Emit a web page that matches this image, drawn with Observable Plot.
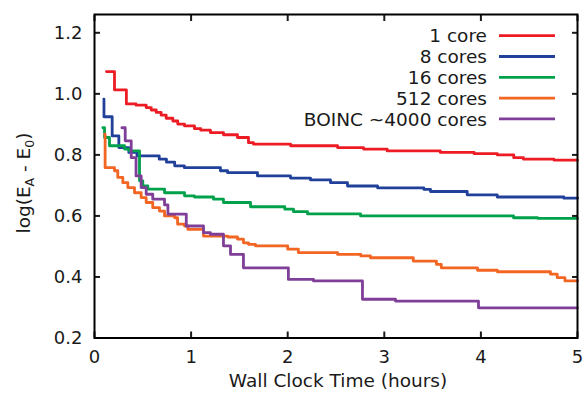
<!DOCTYPE html>
<html><head><meta charset="utf-8">
<script src="https://cdn.jsdelivr.net/npm/d3@7"></script>
<script src="https://cdn.jsdelivr.net/npm/@observablehq/plot@0.6"></script>
<style>body{margin:0;background:#fff}</style>
</head><body><div id="chart"></div>
<script>
const seriesNames = ["1 core", "8 cores", "16 cores", "512 cores", "BOINC ~4000 cores"];
const seriesColors = ["#ed1c24", "#21409a", "#00a14b", "#f26522", "#7f3f98"];
const xTicks = [0, 1, 2, 3, 4, 5];
const yTicks = [0.2, 0.4, 0.6, 0.8, 1.0, 1.2];

const hours1 = [0.124,0.207,0.33,0.43,0.535,0.587,0.639,0.69,0.742,0.811,0.862,0.932,1.035,1.10,1.20,1.335,1.48,1.594,1.646,2.03,2.516,2.785,3.03,3.58,3.93,4.17,4.34,4.44,4.755,5.0];
const log1 =   [1.073,1.013,0.967,0.963,0.955,0.947,0.939,0.93,0.92,0.911,0.901,0.895,0.886,0.881,0.873,0.866,0.857,0.84,0.835,0.83,0.824,0.819,0.813,0.808,0.804,0.8,0.791,0.786,0.783,0.783];

const hours8 = [0.096,0.098,0.183,0.252,0.355,0.44,0.67,0.745,0.83,0.93,1.304,1.377,1.687,2.029,2.236,2.443,2.619,2.93,3.409,3.478,3.858,4.169,4.858,5.0];
const log8 =   [0.983,0.925,0.862,0.824,0.808,0.797,0.786,0.776,0.764,0.758,0.748,0.742,0.731,0.724,0.718,0.709,0.698,0.692,0.687,0.68,0.669,0.662,0.658,0.658];

const hours16 = [0.087,0.104,0.155,0.311,0.362,0.466,0.50,0.552,0.725,0.932,1.035,1.232,1.335,1.615,1.97,2.06,2.205,2.754,4.338,4.586,5.0];
const log16 =   [0.889,0.857,0.83,0.819,0.813,0.715,0.698,0.688,0.676,0.666,0.662,0.655,0.644,0.63,0.622,0.614,0.607,0.6,0.594,0.592,0.592];

const hours512 = [0.104,0.11,0.207,0.241,0.293,0.345,0.414,0.483,0.535,0.603,0.673,0.725,0.83,0.86,0.932,0.966,1.128,1.38,1.48,1.542,1.594,1.666,2.00,2.11,2.516,2.757,2.857,3.3,3.54,3.59,3.965,4.17,4.72,4.79,4.87,5.0];
const log512 =   [0.868,0.758,0.748,0.726,0.709,0.693,0.676,0.66,0.644,0.627,0.616,0.6,0.594,0.573,0.567,0.556,0.534,0.531,0.524,0.512,0.507,0.502,0.491,0.48,0.474,0.469,0.463,0.452,0.441,0.43,0.422,0.417,0.409,0.398,0.387,0.387];

const hoursBoinc = [0.284,0.318,0.38,0.43,0.483,0.535,0.603,0.725,0.76,0.95,1.128,1.2,1.335,1.408,1.542,2.007,2.267,2.774,3.116,3.975,5.0];
const logBoinc =   [0.889,0.846,0.791,0.731,0.693,0.671,0.655,0.636,0.606,0.567,0.545,0.54,0.502,0.474,0.43,0.392,0.387,0.327,0.321,0.299,0.299];

const allHours = [hours1, hours8, hours16, hours512, hoursBoinc];
const allLogs = [log1, log8, log16, log512, logBoinc];
const rows = [];
seriesNames.forEach((s, i) => allHours[i].forEach((h, j) => rows.push({s, h, v: allLogs[i][j]})));

const font = "'DejaVu Sans', Verdana, sans-serif";
const plot = Plot.plot({
  width: 583, height: 393,
  marginLeft: 94, marginRight: 6, marginTop: 14, marginBottom: 55.5,
  style: {fontFamily: font, fontSize: "18px", color: "#1a1a1a", background: "#fff"},
  x: {domain: [0, 5]},
  y: {domain: [0.2, 1.26]},
  color: {domain: seriesNames, range: seriesColors},
  marks: [
    Plot.line(rows, {x: "h", y: "v", z: "s", stroke: "s", curve: "step-after", strokeWidth: 2.8}),
    Plot.axisX(xTicks, {anchor: "bottom", tickSize: 0, tickPadding: 12, label: null, tickFormat: d3.format("d"), fontSize: 18}),
    Plot.axisY(yTicks, {anchor: "left", tickSize: 0, tickPadding: 12, label: null, tickFormat: d3.format(".1f"), fontSize: 18}),
    Plot.axisX(xTicks, {anchor: "bottom", tickSize: -6, text: null, label: null, strokeWidth: 2}),
    Plot.axisX(xTicks, {anchor: "top", tickSize: -6, text: null, label: null, strokeWidth: 2}),
    Plot.axisY(yTicks, {anchor: "left", tickSize: -6, text: null, label: null, strokeWidth: 2}),
    Plot.axisY(yTicks, {anchor: "right", tickSize: -6, text: null, label: null, strokeWidth: 2}),
    Plot.frame({stroke: "#000", strokeWidth: 2})
  ]
});
document.getElementById("chart").appendChild(plot);

const svg = d3.select(plot);
// y axis label
const yl = svg.append("text")
  .attr("transform", "translate(30,183) rotate(-90)")
  .attr("text-anchor", "middle")
  .attr("font-family", font).attr("font-size", 18.5).attr("fill", "#1a1a1a");
yl.append("tspan").text("log(E");
yl.append("tspan").text("A").attr("font-size", 12.5).attr("dy", 4);
yl.append("tspan").text(" - E").attr("dy", -4);
yl.append("tspan").text("0").attr("font-size", 12.5).attr("dy", 4);
yl.append("tspan").text(")").attr("dy", -4);
// x axis label
svg.append("text")
  .attr("x", 338).attr("y", 387)
  .attr("text-anchor", "middle")
  .attr("font-family", font).attr("font-size", 18.5).attr("fill", "#1a1a1a")
  .text("Wall Clock Time (hours)");
// legend
const lg = svg.append("g");
seriesNames.forEach((s, i) => {
  const y = 35.7 + i * 20.8;
  lg.append("text").attr("x", 487).attr("y", y).attr("dy", "0.36em")
    .attr("text-anchor", "end").attr("font-family", font).attr("font-size", 18.5).attr("fill", "#1a1a1a").text(s);
  lg.append("line").attr("x1", 499).attr("x2", 555).attr("y1", y).attr("y2", y)
    .attr("stroke", seriesColors[i]).attr("stroke-width", 2.8);
});
</script>
</body></html>
